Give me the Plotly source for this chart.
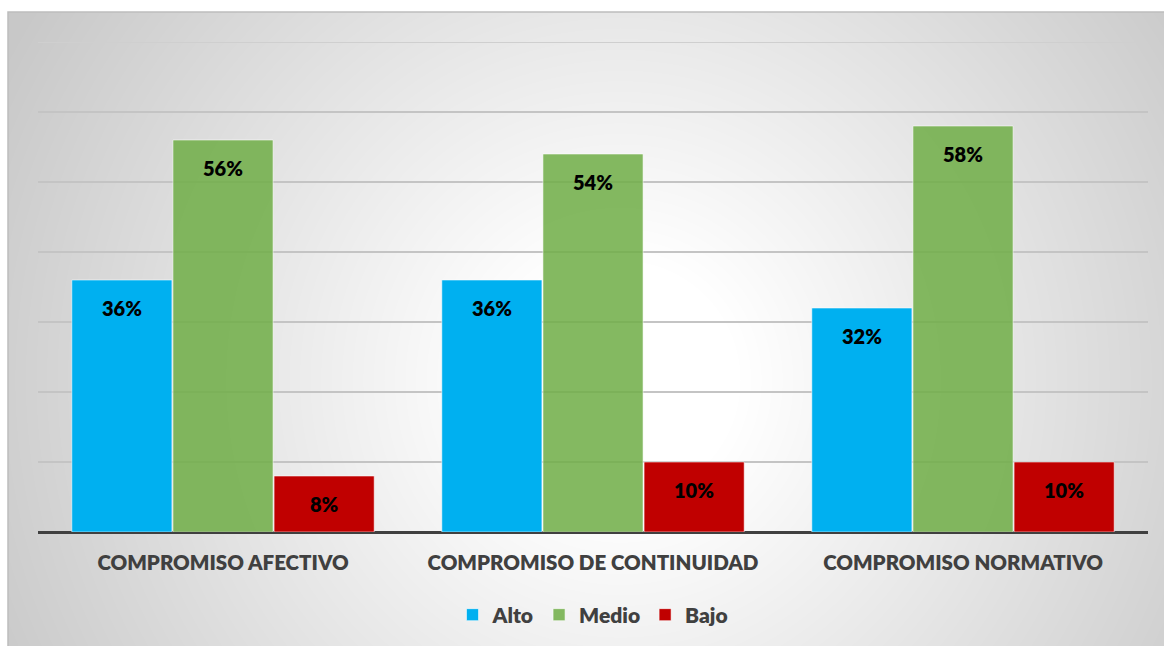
import base64
import struct
import zlib

import numpy as np
import plotly.graph_objects as go

# ---- data ----
categories = ["COMPROMISO AFECTIVO", "COMPROMISO DE CONTINUIDAD", "COMPROMISO NORMATIVO"]
alto = [36, 36, 32]
medio = [56, 54, 58]
bajo = [8, 10, 10]
series_names = ["Alto", "Medio", "Bajo"]

# ---- page geometry (pixels) ----
W, H = 1164, 646
PLOT_L, PLOT_R, PLOT_T, PLOT_B = 38, 1148, 42, 532
BOX_L, BOX_T = 8, 12
plot_w = PLOT_R - PLOT_L
plot_h = PLOT_B - PLOT_T
Y_MAX = 70


def png_data_uri(rgb):
    """Encode an HxWx3 uint8 array as a PNG data URI."""
    h, w, _ = rgb.shape
    raw = b"".join(b"\x00" + rgb[r].tobytes() for r in range(h))

    def chunk(tag, data):
        c = struct.pack(">I", len(data)) + tag + data
        return c + struct.pack(">I", zlib.crc32(tag + data) & 0xFFFFFFFF)

    png = b"\x89PNG\r\n\x1a\n"
    png += chunk(b"IHDR", struct.pack(">IIBBBBB", w, h, 8, 2, 0, 0, 0))
    png += chunk(b"IDAT", zlib.compress(raw, 9))
    png += chunk(b"IEND", b"")
    return "data:image/png;base64," + base64.b64encode(png).decode()


# radial white-to-grey fill of the chart area
bw, bh = W - BOX_L, H - BOX_T
yy, xx = np.mgrid[0:bh, 0:bw].astype(float)
cx, cy = 620 - BOX_L, 380 - BOX_T
d = np.hypot(xx - cx, yy - cy)
t = np.clip((d - 120) / 580, 0, 1)
val = (255 - 55 * t).astype(np.uint8)
bg = np.dstack([val, val, val])
bg_uri = png_data_uri(bg)

fig = go.Figure()

colors = ["#00B0F0", "rgba(112,173,71,0.86)", "#C00000"]
for name, vals, col in zip(series_names, [alto, medio, bajo], colors):
    fig.add_trace(go.Bar(
        name=name,
        x=categories,
        y=vals,
        marker=dict(color=col, line=dict(color="rgba(255,255,255,0.55)", width=1)),
        hoverinfo="skip",
    ))

# value labels sitting inside the top of each bar
bar_px = 101
for i, vals in enumerate([alto, medio, bajo]):
    for cat, v in zip(categories, vals):
        fig.add_annotation(
            x=cat, y=v, xref="x", yref="y",
            text=f"{v}%", showarrow=False,
            xshift=(i - 1) * bar_px, yshift=-28, yanchor="middle",
            font=dict(family="Lato", size=20, color="#000000", weight=800),
        )

fig.add_layout_image(dict(
    source=bg_uri, xref="paper", yref="paper",
    x=(BOX_L - PLOT_L) / plot_w, y=(PLOT_B - BOX_T) / plot_h,
    sizex=bw / plot_w, sizey=bh / plot_h,
    xanchor="left", yanchor="top", sizing="stretch", layer="below",
))

# chart-area border
fig.add_shape(
    type="rect", xref="paper", yref="paper",
    x0=(BOX_L - PLOT_L) / plot_w, x1=(W + 2 - PLOT_L) / plot_w,
    y0=(PLOT_B - H - 2) / plot_h, y1=(PLOT_B - BOX_T) / plot_h,
    line=dict(color="#bdbdbd", width=1.5), fillcolor="rgba(0,0,0,0)", layer="below",
)

# top gridline at the end of the value range
fig.add_shape(
    type="line", xref="paper", yref="y", x0=0, x1=1, y0=Y_MAX, y1=Y_MAX,
    line=dict(color="#cfcfcf", width=2), layer="below",
)

fig.update_layout(
    width=W, height=H,
    margin=dict(l=PLOT_L, r=W - PLOT_R, t=PLOT_T, b=H - PLOT_B, autoexpand=False),
    paper_bgcolor="#ffffff",
    plot_bgcolor="rgba(0,0,0,0)",
    barmode="group",
    bargap=0.18,
    bargroupgap=0.01,
    font=dict(family="Lato", color="#404040"),
    showlegend=True,
    legend=dict(
        orientation="h", x=0.5, xanchor="center",
        y=(PLOT_B - 615) / plot_h, yanchor="middle",
        font=dict(family="Lato", size=21, color="#404040", weight=800),
        bgcolor="rgba(255,255,255,0)", itemwidth=30,
        traceorder="normal",
    ),
    xaxis=dict(
        showgrid=False, ticks="", showline=False,
        tickfont=dict(family="Lato", size=20.5, color="#404040", weight=800),
        ticklabelstandoff=16,
    ),
    yaxis=dict(
        range=[0, Y_MAX], dtick=10, showticklabels=False, ticks="",
        showgrid=True, gridcolor="#c4c4c4", gridwidth=2,
        zeroline=True, zerolinecolor="#404040", zerolinewidth=3,
    ),
)

fig.write_html("out.html")
